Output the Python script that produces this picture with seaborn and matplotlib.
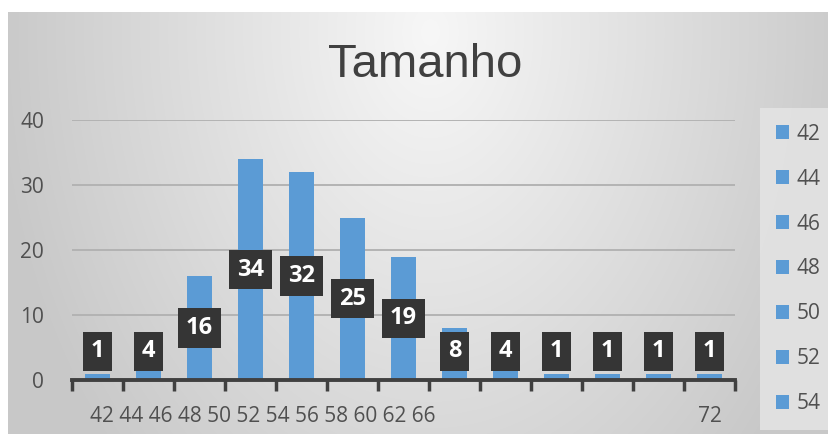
import numpy as np
import pandas as pd
import matplotlib
matplotlib.use("Agg")
import matplotlib.pyplot as plt
import seaborn as sns
from matplotlib.patches import Patch

# ---- data ----
sizes = ["42", "44", "46", "48", "50", "52", "54", "56", "58", "60", "62", "66", "72"]
counts = [1, 4, 16, 34, 32, 25, 19, 8, 4, 1, 1, 1, 1]
legend_labels = ["42", "44", "46", "48", "50", "52", "54"]
xtick_text = [" ".join(sizes[:12]), sizes[12]]
yticks = [0, 10, 20, 30, 40]
title = "Tamanho"

BAR = "#5B9BD5"
TXT = "#505050"

sns.set_theme(style="white")
plt.rcParams["font.family"] = ["Open Sans", "DejaVu Sans"]

W, H = 829, 434
fig = plt.figure(figsize=(W / 100, H / 100), dpi=100)
fig.patch.set_facecolor("white")

# background gradient (chart area)
bg = fig.add_axes([8 / W, 0, 1 - 8 / W, (H - 12) / H], zorder=-10)
yy, xx = np.mgrid[0:422, 0:821]
r = np.sqrt(((xx - 422) / 440.0) ** 2 + ((yy - 20) / 620.0) ** 2)
r = np.clip(r, 0, 1)
val = (0xF7 - (0xF7 - 0xC8) * r) / 255.0
bg.imshow(np.dstack([val, val, val]), aspect="auto", interpolation="bilinear")
bg.axis("off")

df = pd.DataFrame({"size": sizes, "count": counts})

ax = fig.add_axes([72 / W, (H - 380) / H, (735 - 72) / W, 260 / H])
ax.patch.set_alpha(0)
sns.barplot(data=df, x="size", y="count", order=sizes, color=BAR, width=0.5,
            saturation=1, linewidth=0, edgecolor="none", ax=ax, zorder=3)
ax.set_xlim(-0.5, len(sizes) - 0.5)
ax.set_ylim(0, 40)
ax.set_yticks(yticks)
ax.set_yticklabels([str(t) for t in yticks])
ax.yaxis.grid(True, color="#b3b3b3", linewidth=1.4, zorder=0)
ax.set_axisbelow(True)
for s in ["top", "right", "left"]:
    ax.spines[s].set_visible(False)
ax.spines["bottom"].set_color("#404040")
ax.spines["bottom"].set_linewidth(2.8)
ax.spines["bottom"].set_zorder(5)
ax.tick_params(axis="y", length=0, pad=20, labelsize=15, labelcolor=TXT)
ax.set_xlabel("")
ax.set_ylabel("")

# x tick labels (as in reference: first labels crammed together)
ax.set_xticks([3.235, 12])
ax.set_xticklabels(xtick_text)
ax.tick_params(axis="x", which="major", length=0, pad=19, labelsize=15, labelcolor=TXT)
ax.set_xticks(np.arange(-0.5, len(sizes), 1), minor=True)
ax.tick_params(axis="x", which="minor", length=8, width=2.5, color="#404040",
               direction="out", bottom=True)

# data labels
for i, v in enumerate(counts):
    ax.text(i, max(v / 2, 4.4), str(v), ha="center", va="center", color="white",
            fontsize=17, fontweight="bold", zorder=6,
            bbox=dict(boxstyle="square,pad=0.32", facecolor="#353535", edgecolor="none"))

fig.text(425.5 / W, (H - 77) / H, title, ha="center", va="baseline",
         fontsize=34, color="#404040", family=["Liberation Sans", "DejaVu Sans"])

handles = [Patch(facecolor=BAR, edgecolor="none") for _ in legend_labels]
leg = fig.legend(handles, legend_labels, loc="upper left",
                 bbox_to_anchor=(760 / W, (H - 108) / H), borderaxespad=0,
                 fontsize=15, handlelength=0.65, handleheight=0.65, handletextpad=0.35,
                 labelspacing=1.15, frameon=True, fancybox=False, borderpad=0.75,
                 labelcolor=TXT)
leg.get_frame().set_facecolor("#e3e3e3")
leg.get_frame().set_edgecolor("none")
leg.get_frame().set_alpha(0.9)

fig.savefig("out.png", dpi=100)
